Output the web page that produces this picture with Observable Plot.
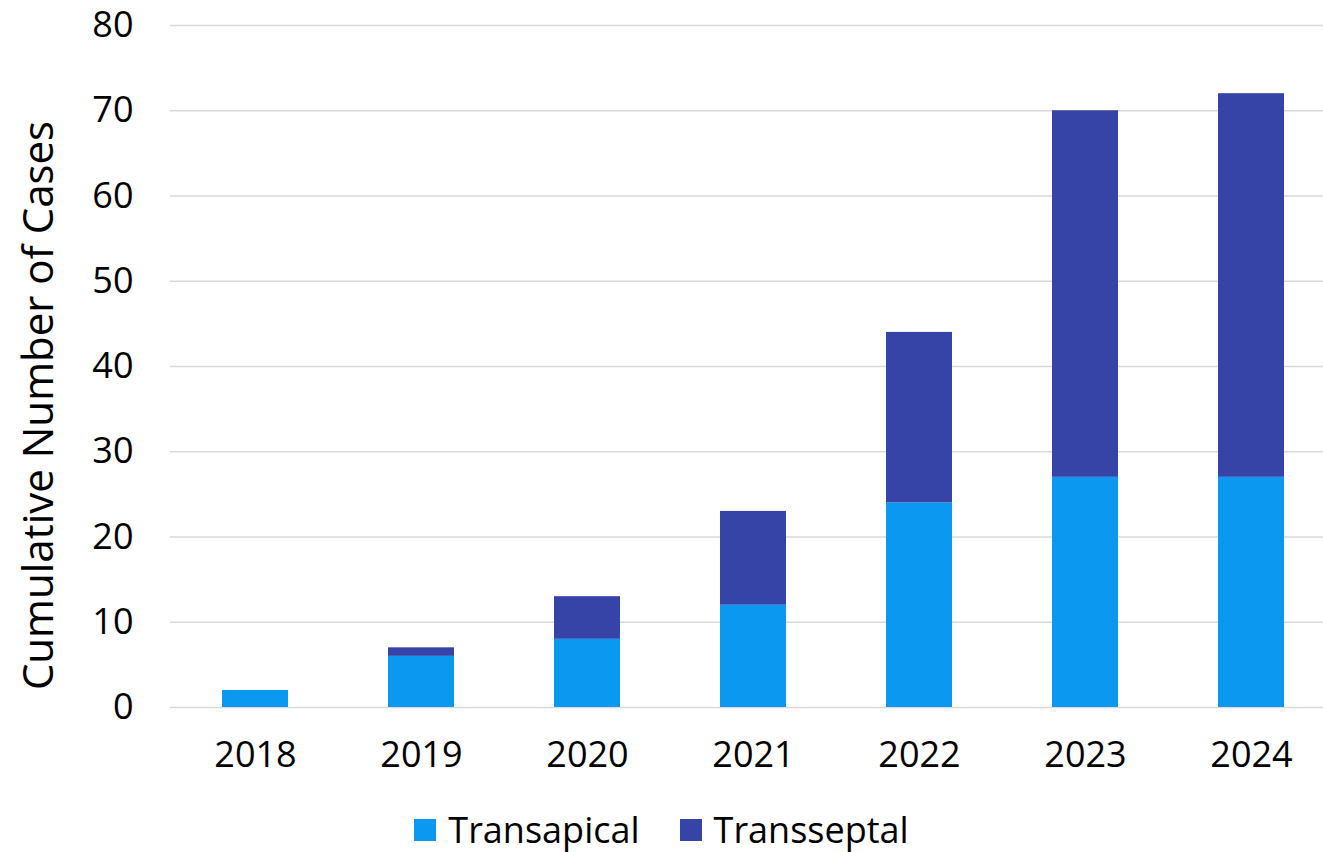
<!DOCTYPE html>
<html>
<head>
<meta charset="utf-8">
<script src="https://cdn.jsdelivr.net/npm/d3@7"></script>
<script src="https://cdn.jsdelivr.net/npm/@observablehq/plot@0.6"></script>
<style>
  html, body { margin: 0; padding: 0; background: #fff; }
  #chart { width: 1323px; }
  .legend { display: flex; justify-content: center; align-items: center; gap: 40px; font-family: "Open Sans", sans-serif; font-size: 36px; color: #000; margin-top: 30px; padding-left: 0; }
  .legend .item { display: flex; align-items: center; gap: 12px; }
  .legend .sw { width: 22px; height: 22px; display: inline-block; }
</style>
</head>
<body>
<div id="chart"></div>
<script>
const years = ["2018", "2019", "2020", "2021", "2022", "2023", "2024"];
const transapical = [2, 6, 8, 12, 24, 27, 27];
const transseptal = [0, 1, 5, 11, 20, 43, 45];
const seriesNames = ["Transapical", "Transseptal"];
const seriesColors = ["#0A98F0", "#3644A8"];
const yTicks = [0, 10, 20, 30, 40, 50, 60, 70, 80];
const yLabel = "Cumulative Number of Cases";

const rows = [];
years.forEach((y, i) => {
  rows.push({year: y, series: seriesNames[0], value: transapical[i]});
  rows.push({year: y, series: seriesNames[1], value: transseptal[i]});
});

const chart = Plot.plot({
  width: 1323,
  height: 775,
  marginTop: 25,
  marginBottom: 68,
  marginLeft: 183,
  marginRight: 0,
  style: {fontFamily: "Open Sans", fontSize: "36px", color: "#000", background: "#fff", overflow: "visible"},
  x: {domain: years, paddingInner: 0.603, paddingOuter: 0.2315, label: null},
  y: {domain: [0, 80], label: null},
  color: {domain: seriesNames, range: seriesColors},
  marks: [
    Plot.ruleY(yTicks, {stroke: "#d9d9d9", strokeWidth: 1.5, insetLeft: -13}),
    Plot.barY(rows, {x: "year", y: "value", fill: "series", order: seriesNames}),
    Plot.axisY(yTicks, {tickSize: 0, tickPadding: 50, label: null, fontSize: 36}),
    Plot.axisX({tickSize: 0, tickPadding: 34, label: null, fontSize: 36}),
    Plot.text([yLabel], {frameAnchor: "left", textAnchor: "middle", rotate: -90, dx: -144, dy: 39, fontSize: 42, fill: "#000"})
  ]
});
document.getElementById("chart").appendChild(chart);

const legend = document.createElement("div");
legend.className = "legend";
seriesNames.forEach((name, i) => {
  const item = document.createElement("div");
  item.className = "item";
  const sw = document.createElement("span");
  sw.className = "sw";
  sw.style.background = seriesColors[i];
  const t = document.createElement("span");
  t.textContent = name;
  item.appendChild(sw);
  item.appendChild(t);
  legend.appendChild(item);
});
document.getElementById("chart").appendChild(legend);
</script>
</body>
</html>
